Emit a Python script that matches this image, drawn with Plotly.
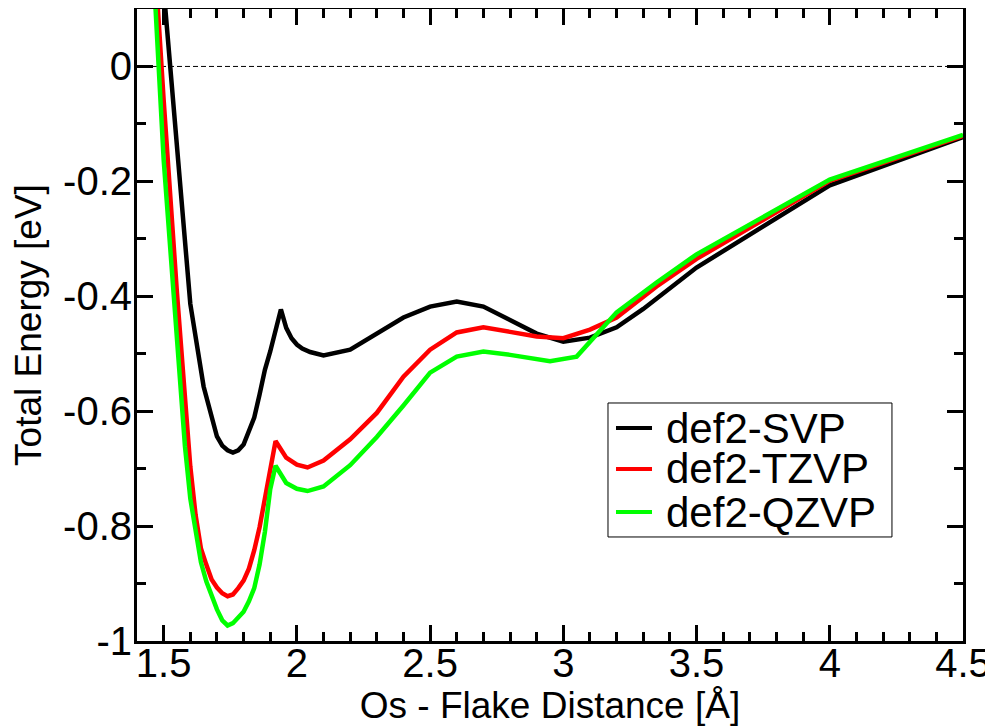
import plotly.graph_objects as go

# ---- data ----
x_svp = [1.5, 1.6, 1.65, 1.68, 1.7, 1.72, 1.74, 1.76, 1.78, 1.8, 1.82, 1.84, 1.86, 1.88, 1.9,
         1.94, 1.96, 1.98, 2.0, 2.02, 2.05, 2.1, 2.2, 2.3, 2.4, 2.5, 2.6, 2.7, 2.8, 2.9, 3.0,
         3.1, 3.2, 3.3, 3.5, 4.0, 4.5]
y_svp = [0.135, -0.413, -0.557, -0.611, -0.644, -0.660, -0.668, -0.672, -0.668, -0.658, -0.635,
         -0.611, -0.571, -0.528, -0.496, -0.423, -0.455, -0.473, -0.484, -0.491, -0.497, -0.503,
         -0.493, -0.465, -0.437, -0.418, -0.409, -0.418, -0.442, -0.465, -0.479, -0.472, -0.454,
         -0.422, -0.35, -0.207, -0.123]

x_tz = [1.45, 1.5, 1.55, 1.58, 1.6, 1.62, 1.64, 1.66, 1.68, 1.7, 1.72, 1.74, 1.76, 1.78, 1.8,
        1.82, 1.84, 1.86, 1.88, 1.9, 1.92, 1.96, 2.0, 2.04, 2.1, 2.2, 2.3, 2.4, 2.5, 2.6, 2.7,
        2.8, 2.9, 3.0, 3.1, 3.2, 3.35, 3.5, 4.0, 4.5]
y_tz = [0.31, -0.058, -0.394, -0.585, -0.696, -0.781, -0.839, -0.867, -0.893, -0.907, -0.917,
        -0.922, -0.919, -0.908, -0.895, -0.874, -0.842, -0.802, -0.754, -0.70, -0.652, -0.681,
        -0.693, -0.698, -0.686, -0.649, -0.603, -0.54, -0.493, -0.463, -0.454, -0.462, -0.47,
        -0.473, -0.458, -0.437, -0.383, -0.335, -0.199, -0.121]

x_qz = [1.45, 1.5, 1.55, 1.56, 1.58, 1.6, 1.62, 1.64, 1.66, 1.68, 1.7, 1.72, 1.74, 1.76, 1.78,
        1.8, 1.82, 1.84, 1.86, 1.88, 1.9, 1.92, 1.96, 2.0, 2.04, 2.1, 2.2, 2.3, 2.4, 2.5, 2.6,
        2.7, 2.8, 2.95, 3.05, 3.2, 3.35, 3.5, 4.0, 4.5]
y_qz = [0.27, -0.162, -0.474, -0.535, -0.661, -0.752, -0.806, -0.863, -0.896, -0.922, -0.945,
        -0.964, -0.973, -0.969, -0.959, -0.949, -0.931, -0.908, -0.867, -0.810, -0.736, -0.695,
        -0.725, -0.735, -0.739, -0.731, -0.694, -0.645, -0.59, -0.533, -0.505, -0.496, -0.502,
        -0.513, -0.505, -0.428, -0.376, -0.327, -0.197, -0.119]

series_names = ["def2-SVP", "def2-TZVP", "def2-QZVP"]
series_colors = ["#000000", "#ff0000", "#00ff00"]

x_tickvals = [1.5, 2, 2.5, 3, 3.5, 4, 4.5]
x_ticktext = ["1.5", "2", "2.5", "3", "3.5", "4", "4.5"]
y_tickvals = [0, -0.2, -0.4, -0.6, -0.8, -1]
y_ticktext = ["0", "-0.2", "-0.4", "-0.6", "-0.8", "-1"]

FONT = "Liberation Sans, Arial, Helvetica, sans-serif"

fig = go.Figure()

# zero reference line
fig.add_shape(type="line", xref="x", yref="y", x0=1.4, x1=4.5, y0=0, y1=0,
              line=dict(color="black", width=1, dash="5px,3px"), layer="below")

for xs, ys, nm, col in zip([x_svp, x_tz, x_qz], [y_svp, y_tz, y_qz], series_names, series_colors):
    fig.add_trace(go.Scatter(x=xs, y=ys, mode="lines", name=nm, showlegend=False,
                             line=dict(color=col, width=4.5), cliponaxis=True))

# legend box (drawn as a framed key, like the original)
leg_x0, leg_x1, leg_y0, leg_y1 = 0.5702, 0.9140, 0.1646, 0.3766
fig.add_shape(type="rect", xref="paper", yref="paper", x0=leg_x0, x1=leg_x1, y0=leg_y0, y1=leg_y1,
              line=dict(color="black", width=1), fillcolor="white", layer="above")
row_y = [0.3370, 0.2722, 0.2041]
for ry, nm, col in zip(row_y, series_names, series_colors):
    fig.add_shape(type="line", xref="paper", yref="paper", x0=0.5799, x1=0.6235, y0=ry, y1=ry,
                  line=dict(color=col, width=4), layer="above")
    fig.add_annotation(xref="paper", yref="paper", x=0.638, y=ry, text=nm, showarrow=False,
                       xanchor="left", yanchor="middle",
                       font=dict(family=FONT, size=42, color="black"))

axis_common = dict(
    showline=True, linecolor="black", linewidth=3, mirror="allticks", automargin=False,
    ticks="inside", tickcolor="black", tickwidth=3, showgrid=False, zeroline=False,
    tickfont=dict(family=FONT, size=40, color="black"),
)

fig.update_xaxes(
    range=[1.4, 4.5], tickvals=x_tickvals, ticktext=x_ticktext, ticklen=16,
    ticklabelstandoff=-15,
    minor=dict(dtick=0.1, tick0=1.4, ticks="inside", ticklen=9, tickwidth=3, tickcolor="black", showgrid=False),
    title=dict(text="Os - Flake Distance [Å]", font=dict(family=FONT, size=37, color="black"), standoff=7),
    **axis_common,
)
fig.update_yaxes(
    range=[-1, 0.1], tickvals=y_tickvals, ticktext=y_ticktext, ticklen=16,
    ticklabelstandoff=-6,
    minor=dict(dtick=0.1, tick0=0, ticks="inside", ticklen=9, tickwidth=3, tickcolor="black", showgrid=False),
    title=dict(text="Total Energy [eV]", font=dict(family=FONT, size=37, color="black"), standoff=15),
    **axis_common,
)

# the page adds an 8px body margin, so the figure is sized to fill the rest of the window
fig.update_layout(
    width=985, height=719,
    margin=dict(l=129, r=30, t=1, b=86),
    paper_bgcolor="white", plot_bgcolor="white",
    showlegend=False,
)

fig.write_html("out.html")
